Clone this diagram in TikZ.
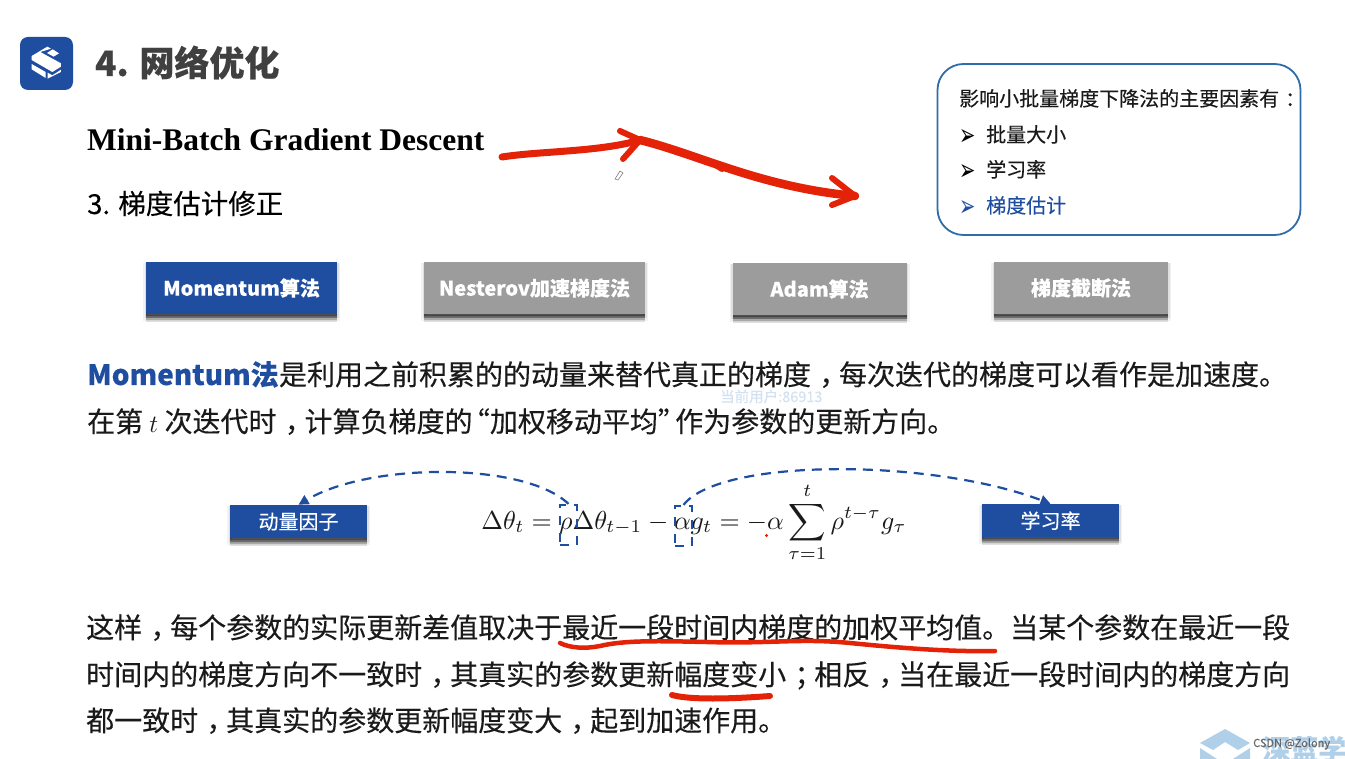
\documentclass[tikz,border=0pt]{standalone}
\usepackage{fontspec}
\setmainfont{Noto Sans CJK SC}[RawFeature={embolden=0.25}]
\newfontfamily\serifb{Liberation Serif}[BoldFont={Liberation Serif Bold}]
\newfontfamily\dejav{DejaVu Sans}
\usetikzlibrary{arrows.meta}
\definecolor{dblue}{HTML}{1F4EA1}
\definecolor{lblue}{HTML}{2F6DA8}
\definecolor{gbox}{HTML}{9C9C9C}
\definecolor{redink}{HTML}{E32208}
\definecolor{tcol}{HTML}{404040}
\definecolor{txt}{HTML}{1A1A1A}
\definecolor{pale}{HTML}{B0D0EA}
\definecolor{wmark}{HTML}{D3E2F2}
\newcommand\zc[1]{\makebox[1em][l]{\hspace{0.3em}#1}}
\newcommand\openq{\makebox[.62em][r]{“}}
\newcommand\closeq{\makebox[.62em][l]{”}}
\newcommand\arrowbullet{\scalebox{1.3}[2]{➢}}
\tikzset{
  x=1pt,y=-1pt,
  softshadow/.style={
    preaction={draw=black,fill=black,opacity=.05,line width=6pt,transform canvas={yshift=-4pt}},
    preaction={draw=black,fill=black,opacity=.08,line width=3pt,transform canvas={yshift=-3pt}},
    preaction={fill=black,opacity=.12,transform canvas={yshift=-8pt}},
    preaction={fill=black,opacity=.20,transform canvas={yshift=-6pt}},
    preaction={fill=black,opacity=.25,transform canvas={yshift=-4pt}},
    preaction={fill=black,opacity=.30,transform canvas={yshift=-2pt}}},
  line/.style={anchor=base west,inner sep=0pt,text=txt,font=\fontsize{28}{30}\selectfont},
  small/.style={anchor=base west,inner sep=0pt,text=txt,font=\fontsize{20}{24}\selectfont},
  bullet/.style={anchor=base west,inner sep=0pt,text=black,font=\dejav\fontsize{15}{20}\selectfont},
  btn/.style={inner sep=0pt,text=white,font=\fontsize{20}{24}\selectfont\bfseries,minimum height=52pt,softshadow},
  tag/.style={inner sep=0pt,fill=dblue,text=white,font=\fontsize{20}{24}\selectfont,minimum height=33.5pt,minimum width=137pt,softshadow},
  dbox/.style={draw=dblue,line width=2.2pt,dash pattern=on 9pt off 8pt,inner sep=0pt,minimum width=17pt,minimum height=40pt},
  dlink/.style={draw=dblue,line width=2.2pt,dash pattern=on 10pt off 7pt,-{Triangle[length=10pt,width=10pt]}},
  ink/.style={draw=redink,line width=5pt,line cap=round,line join=round}
}
\begin{document}
\begin{tikzpicture}
\useasboundingbox (0,0) rectangle (1345,759);
\fill[white] (0,0) rectangle (1345,759);

% logo
\fill[dblue,rounded corners=8pt] (20,37) rectangle (73,90);
\begin{scope}[shift={(15,32)},x=.3333pt,y=-.3333pt]
\fill[white] (97,44) -- (50,72) -- (50,84) -- (112,120) -- (138,104) -- (138,94) -- (76,60) -- (108,50) -- cycle;
\fill[white] (113,52) -- (132,64) -- (116,74) -- (96,63) -- cycle;
\fill[white] (50,96) -- (92,120) -- (92,138) -- (50,112) -- cycle;
\fill[white] (98,122) -- (112,130) -- (138,113) -- (138,120) -- (98,140) -- cycle;
\end{scope}

\node[anchor=base west,inner sep=0pt,text=tcol,font=\fontsize{35}{40}\selectfont\bfseries] (title) at (95,76) {4. 网络优化};
\node[anchor=base west,inner sep=0pt,text=black,font=\serifb\fontsize{31.5}{34}\selectfont\bfseries] (mini) at (87,151) {Mini-Batch Gradient Descent};
\node[line,text=black,font=\fontsize{27.5}{30}\selectfont] (sec) at (87,214) {3. 梯度估计修正};

% factors box
\draw[lblue,line width=1.8pt,rounded corners=26pt] (937.5,64) rectangle (1300.5,235);
\node[small] (f0) at (959,106) {影响小批量梯度下降法的主要因素有\zc{：}};
\node[bullet] (b1) at (959,146) {\arrowbullet};
\node[small] (f1) at (986,142) {批量大小};
\node[bullet] (b2) at (959,181) {\arrowbullet};
\node[small] (f2) at (986,177) {学习率};
\node[bullet,text=dblue] (b3) at (959,217) {\arrowbullet};
\node[small,text=dblue] (f3) at (986,213) {梯度估计};

% buttons
\node[btn,fill=dblue,minimum width=191pt] (m1) at (241.5,288) {Momentum算法};
\node[btn,fill=gbox,minimum width=221pt] (m2) at (534.5,288) {Nesterov加速梯度法};
\node[btn,fill=gbox,minimum width=174pt] (m3) at (819.5,289) {Adam算法};
\node[btn,fill=gbox,minimum width=174pt] (m4) at (1081,288) {梯度截断法};

% paragraph 1
\node[inner sep=0pt,anchor=base west,text=wmark,font=\fontsize{14.5}{15}\selectfont] (wm) at (720,402) {当前用户:86913};
\node[line,text=dblue,font=\fontsize{28}{30}\selectfont\bfseries] (mom) at (87,385) {Momentum法};
\node[line] (l1) at (mom.base east) {是利用之前积累的的动量来替代真正的梯度\zc{，}每次迭代的梯度可以看作是加速度。};
\node[line] (l2) at (87,432) {在第 $t$ 次迭代时\zc{，}计算负梯度的\openq 加权移动平均\closeq 作为参数的更新方向。};

% formula
\node[inner sep=0pt,anchor=base,text=txt] (eq) at (694,529) {\scalebox{2.6}{$\Delta\theta_t=\rho\Delta\theta_{t-1}-\alpha g_t=-\alpha\displaystyle\sum_{\tau=1}^{t}\rho^{t-\tau}g_\tau$}};
\node[tag] (t1) at (298.5,521.7) {动量因子};
\node[tag] (t2) at (1050.5,520.7) {学习率};
\node[dbox] (rho) at (568.5,525) {};
\node[dbox] (alp) at (683.5,526) {};
\draw[dlink] (rho.north) .. controls (525,462) and (370,462) .. (t1.north);
\draw[dlink] (alp.north) .. controls (720,458) and (930,458) .. (t2.north);
\fill[redink] (766.5,535.5) circle (1.6pt);

% paragraph 2
\node[line] (p1) at (86,638) {这样\zc{，}每个参数的实际更新差值取决于最近一段时间内梯度的加权平均值。当某个参数在最近一段};
\node[line] (p2) at (86,685) {时间内的梯度方向不一致时\zc{，}其真实的参数更新幅度变小\zc{；}相反\zc{，}当在最近一段时间内的梯度方向};
\node[line] (p3) at (86,731) {都一致时\zc{，}其真实的参数更新幅度变大\zc{，}起到加速作用。};

% ink
\draw[ink,line width=7pt] (502,157) .. controls (540,151) and (600,152) .. (640,140);
\draw[ink,line width=6pt] (620,131) -- (640,140) -- (623,159);
\draw[ink,line width=8.5pt] (640,140) .. controls (700,155) and (760,187) .. (855,196);
\draw[ink,line width=6pt] (713,163) -- (722,169);
\draw[ink,line width=6pt] (832,178) -- (855,196) -- (832,205);
\draw[ink,line width=4.5pt] (560,643) .. controls (570,648) and (585,649) .. (600,646) .. controls (625,640) and (660,641) .. (707,642) .. controls (770,644) and (800,638) .. (850,643) .. controls (900,648) and (950,652) .. (995,651);
\draw[ink,line width=6pt] (672,695) .. controls (690,700) and (730,699) .. (770,696);
\draw[gray,line width=.6pt] (615,179) -- (620,171) -- (623,173) -- (618,180) -- cycle;

% bottom right
\begin{scope}
\clip (0,0) rectangle (1345,759);
\fill[pale] (1200,743) -- (1225,729) -- (1250,743) -- (1238,750) -- (1225,742) -- (1213,750) -- cycle;
\fill[pale] (1200,748) -- (1217,759) -- (1200,759) -- cycle;
\fill[pale] (1233,759) -- (1250,748) -- (1250,759) -- cycle;
\node[anchor=base west,inner sep=0pt,text=pale,font=\fontsize{28}{30}\selectfont\bfseries] (brand) at (1262,760) {深蓝学};
\end{scope}
\node[anchor=base west,inner sep=0pt,text=black!60,font=\fontsize{11}{13}\selectfont] (csdn) at (1253,747) {CSDN @Zolony};
\end{tikzpicture}
\end{document}
